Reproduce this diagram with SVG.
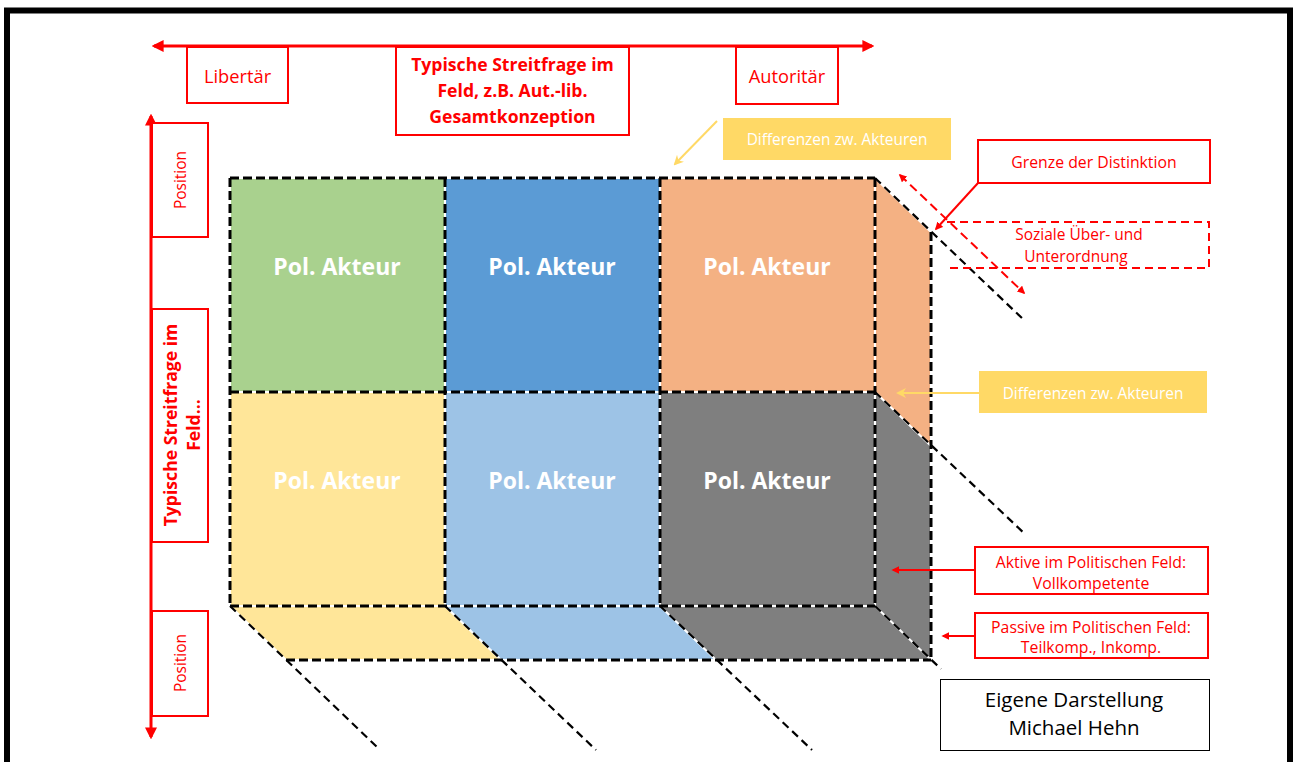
<svg xmlns="http://www.w3.org/2000/svg" width="1293" height="762" viewBox="0 0 1293 762">
  <style>
    .t { font-family: "Open Sans", "Liberation Sans", sans-serif; text-anchor: middle; dominant-baseline: central; }
    .red { fill: #FF0000; }
    .akt { fill: #FFFFFF; font-weight: bold; font-size: 23px; }
    .box { fill: #FFFFFF; stroke: #FF0000; stroke-width: 2; }
    .under { stroke: #FFFFFF; fill: none; }
    .dash { stroke: #000000; fill: none; stroke-dasharray: 9 4; }
    .thin { stroke-width: 2.2; stroke-dasharray: 8 5; }
    .thick { stroke-width: 3; }
  </style>
  <defs>
    <marker id="ahRed" viewBox="0 0 10 10" refX="8" refY="5" markerWidth="4" markerHeight="4" orient="auto-start-reverse">
      <path d="M0,0 L10,5 L0,10 z" fill="#FF0000"/>
    </marker>
    <marker id="ahYel" viewBox="0 0 10 10" refX="8" refY="5" markerWidth="5" markerHeight="5" orient="auto-start-reverse">
      <path d="M0,0 L10,5 L0,10 L3,5 z" fill="#FFD966"/>
    </marker>
  </defs>

  <rect width="1293" height="762" fill="#FFFFFF"/>
  <!-- outer frame -->
  <rect x="7" y="10.5" width="1283" height="800" fill="none" stroke="#000000" stroke-width="6"/>

  <!-- cube faces -->
  <g id="cube-fill">
    <rect x="230" y="178" width="215" height="214" fill="#A9D18E"/>
    <rect x="445" y="178" width="215" height="214" fill="#5B9BD5"/>
    <rect x="660" y="178" width="215" height="214" fill="#F4B183"/>
    <rect x="230" y="392" width="215" height="214" fill="#FFE699"/>
    <rect x="445" y="392" width="215" height="214" fill="#9DC3E6"/>
    <rect x="660" y="392" width="215" height="214" fill="#7F7F7F"/>
    <polygon points="875,178 931,232 931,446 875,392" fill="#F4B183"/>
    <polygon points="875,392 931,446 931,660 875,606" fill="#7F7F7F"/>
    <polygon points="230,606 445,606 501,660 286,660" fill="#FFE699"/>
    <polygon points="445,606 660,606 716,660 501,660" fill="#9DC3E6"/>
    <polygon points="660,606 875,606 931,660 716,660" fill="#7F7F7F"/>
  </g>

  <!-- dashed cube edges and depth lines -->
  <g id="connectors">
    <g class="under" stroke-width="2">
      <path d="M230,178 H875 M230,392 H875 M230,606 H875 M230,178 V606 M445,178 V606 M660,178 V606 M875,178 V606 M931,232 V660 M286,660 H931"/>
      <path d="M875,178 L931,232 M875,392 L931,446 M875,606 L931,660 M230,606 L286,660 M445,606 L501,660 M660,606 L716,660"/>
    </g>
    <path class="dash thick" d="M230,178 H875 M230,392 H875 M230,606 H875 M230,178 V606 M445,178 V606 M660,178 V606 M875,178 V606 M931,232 V660 M286,660 H931"/>
    <path class="dash thin" d="M875,178 L1025,321 M875,392 L1026,535 M875,606 L941,669 M230,606 L378,748 M445,606 L596,750 M660,606 L812,750"/>

    <!-- top axis -->
    <line x1="154" y1="46" x2="872" y2="46" stroke="#FF0000" stroke-width="3" marker-start="url(#ahRed)" marker-end="url(#ahRed)"/>
    <!-- left axis -->
    <line x1="151" y1="116" x2="151" y2="737" stroke="#FF0000" stroke-width="3" marker-start="url(#ahRed)" marker-end="url(#ahRed)"/>

    <!-- callout arrows -->
    <line x1="717" y1="121" x2="675" y2="164" stroke="#FFD966" stroke-width="2" marker-end="url(#ahYel)"/>
    <line x1="979" y1="393" x2="898" y2="393" stroke="#FFD966" stroke-width="2" marker-end="url(#ahYel)"/>
    <line x1="978" y1="183" x2="936" y2="229" stroke="#FF0000" stroke-width="2" marker-end="url(#ahRed)"/>
    <line x1="900" y1="175" x2="1024" y2="293" stroke="#FF0000" stroke-width="2" stroke-dasharray="9 5" marker-start="url(#ahRed)" marker-end="url(#ahRed)"/>
    <line x1="975" y1="570" x2="893" y2="570" stroke="#FF0000" stroke-width="2" marker-end="url(#ahRed)"/>
    <line x1="975" y1="636" x2="943" y2="636" stroke="#FF0000" stroke-width="2" marker-end="url(#ahRed)"/>
  </g>

  <!-- actor cells -->
  <g id="akteur-1"><text class="t akt" x="337" y="266">Pol. Akteur</text></g>
  <g id="akteur-2"><text class="t akt" x="552" y="266">Pol. Akteur</text></g>
  <g id="akteur-3"><text class="t akt" x="767" y="266">Pol. Akteur</text></g>
  <g id="akteur-4"><text class="t akt" x="337" y="480">Pol. Akteur</text></g>
  <g id="akteur-5"><text class="t akt" x="552" y="480">Pol. Akteur</text></g>
  <g id="akteur-6"><text class="t akt" x="767" y="480">Pol. Akteur</text></g>

  <!-- top axis labels -->
  <g id="libertaer">
    <rect class="box" x="187" y="47" width="101" height="56"/>
    <text class="t red" x="237.5" y="75" font-size="18.3">Libertär</text>
  </g>
  <g id="streitfrage-top">
    <rect class="box" x="396" y="47" width="233" height="88"/>
    <text class="t red" x="512.5" y="64" font-size="17.6" font-weight="bold">Typische Streitfrage im</text>
    <text class="t red" x="512.5" y="90" font-size="17.6" font-weight="bold">Feld, z.B. Aut.-lib.</text>
    <text class="t red" x="512.5" y="116" font-size="17.6" font-weight="bold">Gesamtkonzeption</text>
  </g>
  <g id="autoritaer">
    <rect class="box" x="736" y="47" width="102" height="57"/>
    <text class="t red" x="787" y="75" font-size="18.3">Autoritär</text>
  </g>

  <!-- left axis labels -->
  <g id="position-top">
    <rect class="box" x="152" y="123" width="56" height="114"/>
    <text class="t red" transform="translate(180,180) rotate(-90)" font-size="15.5">Position</text>
  </g>
  <g id="streitfrage-left">
    <rect class="box" x="152" y="309" width="56" height="233"/>
    <g transform="translate(181,425) rotate(-90)">
      <text class="t red" x="0" y="-11" font-size="17.6" font-weight="bold">Typische Streitfrage im</text>
      <text class="t red" x="0" y="12" font-size="17.6" font-weight="bold">Feld...</text>
    </g>
  </g>
  <g id="position-bottom">
    <rect class="box" x="152" y="611" width="56" height="105"/>
    <text class="t red" transform="translate(180,663) rotate(-90)" font-size="15.5">Position</text>
  </g>

  <!-- right-hand annotations -->
  <g id="differenzen-top">
    <rect x="723" y="118" width="228" height="42" fill="#FFD966"/>
    <text class="t" x="837" y="139" font-size="15.4" fill="#FFFFFF">Differenzen zw. Akteuren</text>
  </g>
  <g id="grenze">
    <rect class="box" x="978" y="140" width="232" height="43"/>
    <text class="t red" x="1094" y="162" font-size="15.8">Grenze der Distinktion</text>
  </g>
  <g id="soziale">
    <path d="M947,222 H1209 V268 H947" fill="none" stroke="#FF0000" stroke-width="2" stroke-dasharray="8 5"/>
    <text class="t red" x="1079" y="234" font-size="15.5">Soziale Über- und</text>
    <text class="t red" x="1076" y="256" font-size="15.5">Unterordnung</text>
  </g>
  <g id="differenzen-mid">
    <rect x="979" y="371" width="228" height="42" fill="#FFD966"/>
    <text class="t" x="1093" y="393" font-size="15.4" fill="#FFFFFF">Differenzen zw. Akteuren</text>
  </g>
  <g id="aktive">
    <rect class="box" x="975" y="547" width="233" height="47"/>
    <text class="t red" x="1091" y="562" font-size="15.8">Aktive im Politischen Feld:</text>
    <text class="t red" x="1091" y="583" font-size="15.8">Vollkompetente</text>
  </g>
  <g id="passive">
    <rect class="box" x="975" y="613" width="233" height="45"/>
    <text class="t red" x="1091" y="627" font-size="15.8">Passive im Politischen Feld:</text>
    <text class="t red" x="1091" y="647" font-size="15.8">Teilkomp., Inkomp.</text>
  </g>
  <g id="quelle">
    <rect x="940.5" y="679.5" width="269" height="71" fill="#FFFFFF" stroke="#000000" stroke-width="1"/>
    <text class="t" x="1074" y="699" font-size="20.5" fill="#000000">Eigene Darstellung</text>
    <text class="t" x="1074" y="727" font-size="20.5" fill="#000000">Michael Hehn</text>
  </g>
</svg>
